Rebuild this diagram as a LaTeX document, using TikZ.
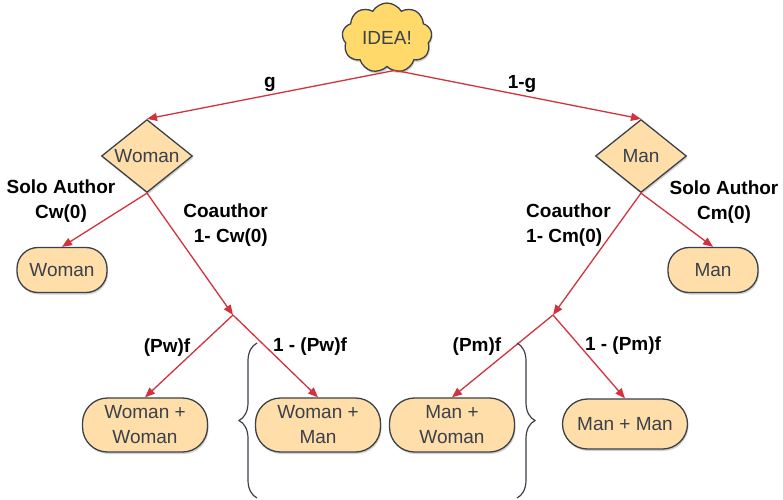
\documentclass[tikz,border=0pt]{standalone}
\usepackage{fontspec}
\setmainfont{Liberation Sans}
\usetikzlibrary{shapes.geometric,shapes.symbols,arrows.meta,decorations.pathreplacing,shadows}
\definecolor{arrowred}{HTML}{D2323C}
\definecolor{edgegray}{HTML}{3A414A}
\definecolor{boxfill}{HTML}{FFDEAA}
\definecolor{cloudfill}{HTML}{FFDA6B}
\begin{document}
\begin{tikzpicture}[x=1pt,y=-1pt,
  shapetext/.style={font=\fontsize{19}{25}\selectfont, text=edgegray},
  lbl/.style={font=\fontsize{19}{25}\selectfont\bfseries, text=black, inner sep=0pt},
  softshadow/.style={drop shadow={opacity=0.18, shadow xshift=1pt, shadow yshift=-2pt, fill=black}},
  pill/.style={rectangle, draw=edgegray, line width=1.3pt, fill=boxfill, shapetext, align=center, inner sep=0pt, softshadow},
  smallpill/.style={pill, minimum width=90pt, minimum height=45pt, rounded corners=21pt},
  bigpill/.style={pill, minimum width=125pt, minimum height=54pt, rounded corners=25pt},
  choice/.style={diamond, draw=edgegray, line width=1.3pt, fill=boxfill, shapetext, inner sep=0pt, minimum width=91pt, minimum height=73pt, aspect=1.25, softshadow},
  flow/.style={draw=arrowred, line width=1.3pt, -{Triangle[length=10pt,width=8pt]}},
  bracket/.style={draw=edgegray, line width=1.2pt, decorate, decoration={brace, amplitude=18pt}}
]
\useasboundingbox (0,0) rectangle (783,499);

% nodes
\node[cloud, cloud puffs=9, cloud puff arc=120, aspect=1.25, draw=edgegray, line width=1.3pt, fill=cloudfill, shapetext, minimum width=90pt, minimum height=70pt, inner sep=0pt, softshadow] (idea) at (387,38) {IDEA!};
\node[choice] (dw) at (147,156) {Woman};
\node[choice] (dm) at (641,156) {Man};
\node[smallpill] (sw) at (62,270) {Woman};
\node[smallpill] (sm) at (713,270) {Man};
\node[bigpill] (ww) at (145,425) {Woman +\\Woman};
\node[bigpill] (wm) at (318,425) {Woman +\\Man};
\node[bigpill] (mw) at (452,425) {Man +\\Woman};
\node[bigpill, minimum height=50pt] (mm) at (625,424) {Man + Man};
\coordinate (bw) at (233,315);
\coordinate (bm) at (553,315);

% connectors
\draw[flow] ([xshift=8pt,yshift=-3pt]idea.south) -- (dw.north);
\draw[flow] ([xshift=8pt,yshift=-3pt]idea.south) -- (dm.north);
\draw[flow] (dw.south) -- (sw.north);
\draw[flow] (dw.south) -- (bw);
\draw[flow] (bw) -- (ww.north);
\draw[flow] (bw) -- (wm.north);
\draw[flow] (dm.south) -- (sm.north);
\draw[flow] (dm.south) -- (bm);
\draw[flow] (bm) -- (mw.north);
\draw[flow] (bm) -- (mm.north);

% braces
\draw[bracket] (257,498) -- (257,343);
\draw[bracket] (517,343) -- (517,498);

% labels
\node[lbl] (lg) at (270,84) {g};
\node[lbl] (l1g) at (522,84) {1-g};
\node[lbl, align=center] (lsw) at (61,201) {Solo Author\\Cw(0)};
\node[lbl, align=right, anchor=east] (lcw) at (268,225) {Coauthor\\1- Cw(0)};
\node[lbl, align=left, anchor=west] (lcm) at (526,225) {Coauthor\\1- Cm(0)};
\node[lbl, align=center] (lsm) at (724,202) {Solo Author\\Cm(0)};
\node[lbl] (lpw) at (167,348) {(Pw)f};
\node[lbl] (lpw2) at (310,347) {1 - (Pw)f};
\node[lbl] (lpm) at (477,347) {(Pm)f};
\node[lbl] (lpm2) at (623,346) {1 - (Pm)f};
\end{tikzpicture}
\end{document}
